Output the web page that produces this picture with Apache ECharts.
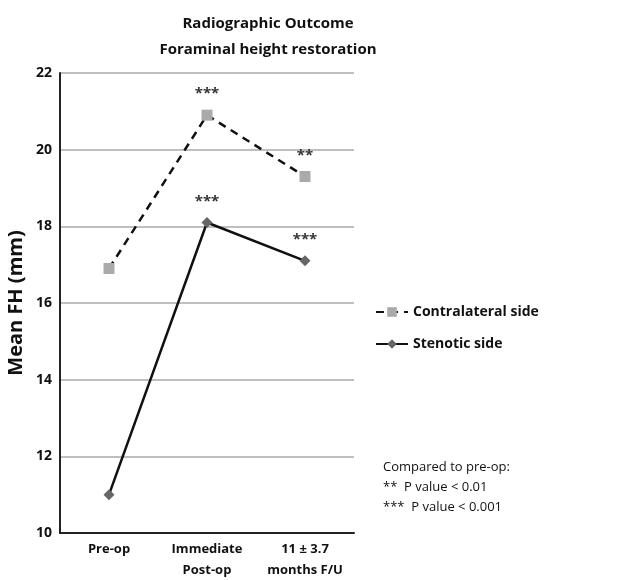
<!DOCTYPE html>
<html>
<head>
<meta charset="utf-8">
<script src="https://cdn.jsdelivr.net/npm/echarts@6/dist/echarts.min.js"></script>
<style>
html, body { margin: 0; padding: 0; background: #fff; }
#chart { width: 632px; height: 580px; }
</style>
</head>
<body>
<div id="chart"></div>
<script>
var categories = ['Pre-op', 'Immediate\nPost-op', '11 \u00b1 3.7\nmonths F/U'];
var contralateral = [16.9, 20.9, 19.3];
var stenotic = [11.0, 18.1, 17.1];
var contraStars = ['', '***', '**'];
var stenoticStars = ['', '***', '***'];
var yTicks = [10, 12, 14, 16, 18, 20, 22];

var font = '"Open Sans", "Noto Sans", sans-serif';
var chart = echarts.init(document.getElementById('chart'));

var option = {
	animation: false,
	textStyle: { fontFamily: font },
	title: {
		text: 'Radiographic Outcome\nForaminal height restoration',
		left: 263,
		textAlign: 'center',
		top: 6,
		textStyle: { fontSize: 15, fontWeight: 'bold', color: '#111', lineHeight: 26, fontFamily: font }
	},
	grid: { left: 60, top: 73, width: 294, height: 460, outerBoundsMode: 'none', containLabel: false },
	legend: {
		left: 370,
		top: 300,
		orient: 'vertical',
		itemGap: 18,
		itemWidth: 32,
		itemHeight: 12,
		textStyle: { fontSize: 14, fontWeight: 'bold', color: '#111', fontFamily: font },
		data: ['Contralateral side', 'Stenotic side']
	},
	xAxis: {
		type: 'category',
		data: categories,
		boundaryGap: true,
		axisLine: { lineStyle: { color: '#222', width: 2 } },
		axisTick: { show: false },
		axisLabel: { interval: 0, fontSize: 13, fontWeight: 'bold', color: '#111', margin: 6, lineHeight: 21, fontFamily: font }
	},
	yAxis: {
		type: 'value',
		min: yTicks[0],
		max: yTicks[yTicks.length - 1],
		interval: 2,
		name: 'Mean FH (mm)',
		nameLocation: 'middle',
		nameGap: 34,
		nameTextStyle: { fontSize: 20, fontWeight: 'bold', color: '#111', fontFamily: font },
		axisLine: { show: true, lineStyle: { color: '#222', width: 2 } },
		axisTick: { show: false },
		axisLabel: { fontSize: 14, fontWeight: 'bold', color: '#111', margin: 8, fontFamily: font },
		splitLine: { lineStyle: { color: '#aaa', width: 1.5 } }
	},
	series: [
		{
			name: 'Contralateral side',
			type: 'line',
			data: contralateral,
			symbol: 'rect',
			symbolSize: 11,
			itemStyle: { color: '#aaa' },
			lineStyle: { color: '#111', width: 2.5, type: [8, 6] },
			label: {
				show: true,
				position: 'top',
				distance: 8,
				fontSize: 15,
				fontWeight: 'bold',
				color: '#333',
				formatter: function (p) { return contraStars[p.dataIndex]; }
			}
		},
		{
			name: 'Stenotic side',
			type: 'line',
			data: stenotic,
			symbol: 'diamond',
			symbolSize: 11,
			itemStyle: { color: '#666' },
			lineStyle: { color: '#111', width: 2.5 },
			label: {
				show: true,
				position: 'top',
				distance: 8,
				fontSize: 15,
				fontWeight: 'bold',
				color: '#333',
				formatter: function (p) { return stenoticStars[p.dataIndex]; }
			}
		}
	],
	graphic: [
		{
			type: 'text',
			left: 383,
			top: 457,
			style: {
				text: 'Compared to pre-op:\n**  P value < 0.01\n***  P value < 0.001',
				font: '13px ' + font,
				fill: '#111',
				lineHeight: 20
			}
		}
	]
};

chart.setOption(option);
</script>
</body>
</html>
